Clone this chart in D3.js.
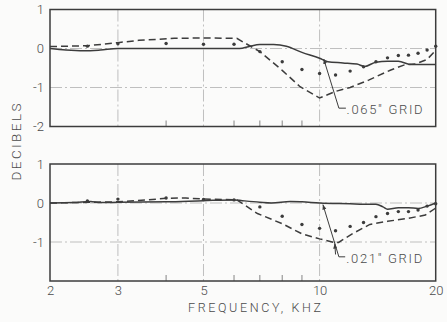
<!DOCTYPE html>
<html>
<head>
<meta charset="utf-8">
<script src="https://cdn.jsdelivr.net/npm/d3@7"></script>
<style>
  html, body { margin: 0; padding: 0; background: #fbfbfa; }
  svg { display: block; }
  text { font-family: Roboto, "Liberation Sans", sans-serif; font-weight: 300; fill: #4a4a4a; }
</style>
</head>
<body>
<svg id="chart" width="447" height="322"></svg>
<script>
// ---------- DATA ----------
const xTickValues = [2, 3, 5, 10, 20];
const xGridValues = [3, 5, 10];
const xMinorTicks = [4, 6, 7, 8, 9];
const yTickValuesTop = [1, 0, -1, -2];
const yTickValuesBottom = [1, 0, -1];
const yGridValues = [0, -1];

// Top panel (.065" grid)
const topSolidFreq = [2, 2.2, 2.45, 2.7, 3, 4, 5, 6.2, 6.6, 7, 7.6, 8.2, 9, 10, 10.5, 11.5, 12.5, 13.1, 14, 15, 16, 17.3, 18.5, 20];
const topSolidDb   = [0, -0.04, -0.06, -0.04, 0, 0, 0, 0, 0.06, 0.1, 0.1, 0.06, -0.1, -0.25, -0.34, -0.37, -0.4, -0.46, -0.35, -0.33, -0.33, -0.41, -0.41, -0.41];
const topDashFreq  = [2, 2.5, 3, 3.4, 4.2, 5, 6.1, 7, 8, 8.9, 10, 11, 12, 13.4, 15.3, 16.6, 17.7, 19, 20];
const topDashDb    = [0.05, 0.07, 0.15, 0.21, 0.26, 0.27, 0.26, -0.08, -0.56, -0.98, -1.27, -1.1, -1.0, -0.81, -0.55, -0.42, -0.4, -0.28, -0.05];
const topDotFreq   = [2.5, 3, 4, 5, 6, 7, 8, 9, 10, 11, 12, 13, 14, 15, 16, 17, 18, 19, 20];
const topDotDb     = [0.06, 0.12, 0.13, 0.11, 0.11, -0.08, -0.34, -0.54, -0.64, -0.68, -0.58, -0.47, -0.34, -0.24, -0.18, -0.17, -0.12, -0.04, 0.06];

// Bottom panel (.021" grid)
const botSolidFreq = [2, 2.3, 2.55, 2.7, 3, 4, 5, 6, 6.3, 7, 7.5, 8.4, 9, 10, 12, 13, 14, 14.6, 15, 16, 17, 18, 19, 20];
const botSolidDb   = [0, 0.01, 0.04, 0.01, 0.02, 0.03, 0.06, 0.08, 0.06, 0.02, 0.0, 0.04, 0.03, 0, -0.02, -0.03, -0.03, -0.1, -0.16, -0.12, -0.12, -0.14, -0.08, 0];
const botDashFreq  = [2, 3, 3.6, 4, 4.5, 5, 6.1, 6.9, 8, 9, 10, 10.9, 11.2, 12.2, 13.5, 15, 17, 18.8, 20];
const botDashDb    = [0, 0.03, 0.08, 0.12, 0.13, 0.1, 0.08, -0.27, -0.53, -0.79, -0.92, -1.01, -1.01, -0.78, -0.55, -0.47, -0.39, -0.31, -0.13];
const botDotFreq   = [2.5, 3, 4, 5, 6, 7, 8, 9, 10, 11, 12, 13, 14, 15, 16, 17, 18, 19, 20];
const botDotDb     = [0.05, 0.1, 0.13, 0.09, 0.08, -0.1, -0.34, -0.55, -0.65, -0.71, -0.6, -0.5, -0.35, -0.27, -0.22, -0.22, -0.18, -0.08, -0.02];

const topLabel = '.065" GRID';
const botLabel = '.021" GRID';
const xTitle = 'FREQUENCY,  KHZ';
const yTitle = 'DECIBELS';

// ---------- LAYOUT ----------
const svg = d3.select('#chart');
const ink = '#3c3c3c';
const x = d3.scaleLog().domain([2, 20]).range([50, 435.7]);
const yTop = d3.scaleLinear().domain([-2, 1]).range([126.5, 9.5]);
const yBot = d3.scaleLinear().domain([-2, 1]).range([281, 164]);

const defs = svg.append('defs');
defs.append('marker').attr('id', 'arr').attr('viewBox', '0 0 10 10')
  .attr('refX', 10).attr('refY', 5).attr('markerWidth', 5).attr('markerHeight', 5)
  .attr('orient', 'auto')
  .append('path').attr('d', 'M0,1 L10,5 L0,9 Z').attr('fill', ink);

function zip(a, b) { return a.map((v, i) => [v, b[i]]); }

function panel(y, yTicks, solid, dash, dots, ann) {
  const g = svg.append('g');
  const [x0, x1] = x.range();
  const [y0, y1] = y.range();
  // grid
  g.selectAll('.hg').data(yGridValues).join('line')
    .attr('x1', x0).attr('x2', x1).attr('y1', d => y(d)).attr('y2', d => y(d))
    .attr('stroke', '#b8b8b8').attr('stroke-width', 0.9).attr('stroke-dasharray', '12,3,2,3');
  g.selectAll('.vg').data(xGridValues).join('line')
    .attr('x1', d => x(d)).attr('x2', d => x(d)).attr('y1', y1).attr('y2', y0)
    .attr('stroke', '#b8b8b8').attr('stroke-width', 0.9).attr('stroke-dasharray', '12,3,2,3');
  // minor ticks
  g.selectAll('.mt').data(xMinorTicks).join('line')
    .attr('x1', d => x(d)).attr('x2', d => x(d)).attr('y1', y0).attr('y2', y0 - 6)
    .attr('stroke', '#777').attr('stroke-width', 0.9);
  // frame
  g.append('rect').attr('x', x0).attr('y', y1).attr('width', x1 - x0).attr('height', y0 - y1)
    .attr('fill', 'none').attr('stroke', ink).attr('stroke-width', 1.5);
  // y axis labels
  const ax = g.append('g').attr('transform', `translate(${x0},0)`)
    .call(d3.axisLeft(y).tickValues(yTicks).tickSize(0).tickPadding(6).tickFormat(d => d < 0 ? '-' + Math.abs(d) : String(d)));
  ax.select('.domain').remove();
  ax.selectAll('text').attr('font-size', 13).attr('font-family', null).style('fill', '#4a4a4a');
  // lines
  g.append('path').datum(solid)
    .attr('d', d3.line().x(d => x(d[0])).y(d => y(d[1])).curve(d3.curveMonotoneX))
    .attr('fill', 'none').attr('stroke', ink).attr('stroke-width', 1.5);
  g.append('path').datum(dash)
    .attr('d', d3.line().x(d => x(d[0])).y(d => y(d[1])))
    .attr('fill', 'none').attr('stroke', ink).attr('stroke-width', 1.5).attr('stroke-dasharray', '7,4');
  g.selectAll('.dot').data(dots).join('circle')
    .attr('cx', d => x(d[0])).attr('cy', d => y(d[1])).attr('r', 1.7).attr('fill', ink);
  // annotation
  g.append('path')
    .attr('d', d3.line().x(d => x(d[0])).y(d => y(d[1]))(ann.leader))
    .attr('fill', 'none').attr('stroke', ink).attr('stroke-width', 1);
  g.append('line')
    .attr('x1', x(ann.leader[1][0])).attr('y1', y(ann.leader[1][1]))
    .attr('x2', x(ann.leader[0][0])).attr('y2', y(ann.leader[0][1]))
    .attr('stroke', 'none').attr('marker-end', 'url(#arr)');
  if (ann.arrow) {
    g.append('line')
      .attr('x1', x(ann.arrow[0][0])).attr('y1', y(ann.arrow[0][1]))
      .attr('x2', x(ann.arrow[1][0])).attr('y2', y(ann.arrow[1][1]))
      .attr('stroke', ink).attr('stroke-width', 1).attr('marker-end', 'url(#arr)');
  }
  g.append('text').attr('x', x(ann.text[0])).attr('y', y(ann.text[1]))
    .attr('dominant-baseline', 'middle').attr('font-size', 13)
    .attr('textLength', 76).attr('lengthAdjust', 'spacing')
    .text(ann.label);
}

panel(yTop, yTickValuesTop, zip(topSolidFreq, topSolidDb), zip(topDashFreq, topDashDb), zip(topDotFreq, topDotDb),
  { leader: [[10.25, -0.27], [11.22, -1.53], [11.7, -1.53]], text: [11.75, -1.58], label: topLabel });
panel(yBot, yTickValuesBottom, zip(botSolidFreq, botSolidDb), zip(botDashFreq, botDashDb), zip(botDotFreq, botDotDb),
  { leader: [[10.2, -0.04], [11.22, -1.38], [11.65, -1.38]], text: [11.72, -1.44], label: botLabel,
    arrow: [[11.0, -1.32], [10.95, -1.04]] });

// x axis labels
const xa = svg.append('g').attr('transform', `translate(0,${yBot.range()[0]})`)
  .call(d3.axisBottom(x).tickValues(xTickValues).tickSize(0).tickPadding(5).tickFormat(d3.format('d')));
xa.select('.domain').remove();
xa.selectAll('text').attr('font-size', 13).attr('font-family', null).style('fill', '#4a4a4a');

// titles
svg.append('text').attr('x', 188).attr('y', 312).attr('font-size', 12.5)
  .attr('textLength', 133).attr('lengthAdjust', 'spacing').text(xTitle);
svg.append('text').attr('transform', 'translate(21,142) rotate(-90)')
  .attr('text-anchor', 'middle').attr('font-size', 13.5)
  .attr('textLength', 77).attr('lengthAdjust', 'spacing').text(yTitle);
</script>
</body>
</html>
